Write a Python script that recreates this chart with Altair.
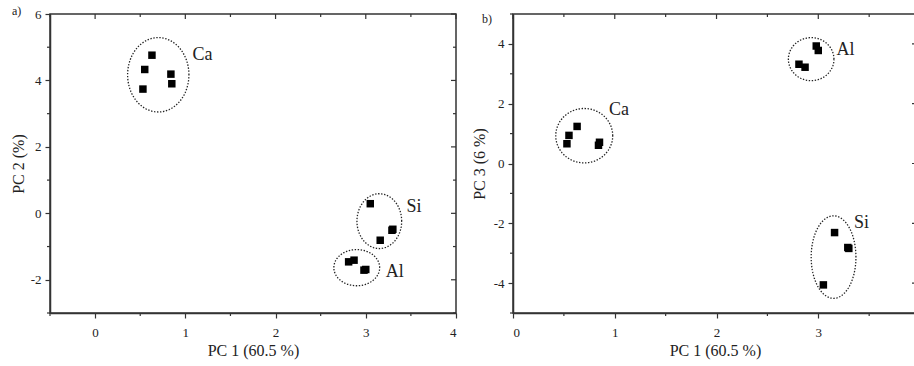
import altair as alt
import numpy as np
import pandas as pd

# Sample scores on the first three principal components
element = ["Ca"] * 5 + ["Al"] * 4 + ["Si"] * 4
pc1 = [0.53, 0.55, 0.63, 0.84, 0.85, 2.81, 2.87, 2.98, 3.00, 3.05, 3.16, 3.29, 3.30]
pc2 = [3.74, 4.33, 4.76, 4.19, 3.90, -1.46, -1.41, -1.71, -1.69, 0.29, -0.81, -0.51, -0.48]
pc3 = [0.66, 0.94, 1.24, 0.61, 0.71, 3.32, 3.22, 3.93, 3.78, -4.06, -2.31, -2.81, -2.84]

# Dotted cluster outlines (centre and semi-axes) for each panel
ell_a_group = ["Ca", "Si", "Al"]
ell_a_cx = [0.70, 3.15, 2.90]
ell_a_cy = [4.17, -0.235, -1.635]
ell_a_rx = [0.34, 0.248, 0.254]
ell_a_ry = [1.12, 0.825, 0.545]

ell_b_group = ["Ca", "Al", "Si"]
ell_b_cx = [0.70, 2.93, 3.15]
ell_b_cy = [0.93, 3.49, -3.13]
ell_b_rx = [0.28, 0.224, 0.22]
ell_b_ry = [0.91, 0.72, 1.38]

# Cluster labels
lab_a_text = ["Ca", "Si", "Al"]
lab_a_x = [1.08, 3.45, 3.22]
lab_a_y = [4.77, 0.18, -1.77]

lab_b_text = ["Ca", "Al", "Si"]
lab_b_x = [0.944, 3.18, 3.35]
lab_b_y = [1.80, 3.78, -2.00]

# Axis ticks
a_x_major = [0, 1, 2, 3, 4]
a_x_minor = [-0.5, 0.5, 1.5, 2.5, 3.5]
a_y_major = [-2, 0, 2, 4, 6]
a_y_minor = [-3, -1, 1, 3, 5]

b_x_major = [0, 1, 2, 3]
b_x_minor = [0.5, 1.5, 2.5, 3.5]
b_y_major = [-4, -2, 0, 2, 4]
b_y_minor = [-5, -3, -1, 1, 3, 5]

SERIF = "'Liberation Serif', 'Times New Roman', Times, serif"
INK = "#222222"
LINE = "#333333"

scores = pd.DataFrame({"element": element, "pc1": pc1, "pc2": pc2, "pc3": pc3})


def outline_frame(groups, cx, cy, rx, ry, n=90):
    rows = []
    t = np.linspace(0, 2 * np.pi, n)
    for g, x0, y0, a, b in zip(groups, cx, cy, rx, ry):
        for k, tt in enumerate(t):
            rows.append({"grp": g, "k": k, "ex": x0 + a * np.cos(tt), "ey": y0 + b * np.sin(tt)})
    return pd.DataFrame(rows)


def panel(ycol, xdom, ydom, W, H, xmaj, xmin, ymaj, ymin, ytitle, ell, labels, tag, tag_pos, ytitle_pad):
    xs = alt.Scale(domain=xdom, nice=False, zero=False)
    ys = alt.Scale(domain=ydom, nice=False, zero=False)
    xax = alt.Axis(values=xmaj, title="PC 1 (60.5 %)", labelExpr="'' + datum.value",
                   labelPadding=8, titlePadding=3)
    yax = alt.Axis(values=ymaj, title=ytitle, labelExpr="'' + datum.value",
                   labelPadding=4, titlePadding=ytitle_pad)

    def X(f):
        return alt.X(f, type="quantitative", scale=xs, axis=xax)

    def Y(f):
        return alt.Y(f, type="quantitative", scale=ys, axis=yax)

    pts = alt.Chart(scores).mark_square(size=56, color="black", opacity=1).encode(
        x=X("pc1"), y=Y(ycol)
    )
    rings = alt.Chart(ell).mark_line(
        strokeDash=[1.4, 1.6], color=INK, strokeWidth=1.3
    ).encode(x=X("ex"), y=Y("ey"), detail="grp:N", order="k:Q")

    txt = alt.Chart(labels).mark_text(
        font=SERIF, fontSize=18, color=INK, align="left", baseline="middle"
    ).encode(x=X("lx"), y=Y("ly"), text="lt:N")

    xmaj_df = pd.DataFrame({"t": xmaj})
    xmin_df = pd.DataFrame({"t": xmin})
    ymaj_df = pd.DataFrame({"t": ymaj})
    ymin_df = pd.DataFrame({"t": ymin})
    rule = dict(color=LINE, strokeWidth=1.2)

    ticks = [
        # minor ticks on the bottom and left axes
        alt.Chart(xmin_df).mark_rule(**rule).encode(x=X("t"), y=alt.value(H), y2=alt.value(H + 3)),
        alt.Chart(ymin_df).mark_rule(**rule).encode(y=Y("t"), x=alt.value(-3), x2=alt.value(0)),
        # mirrored ticks along the top and right edges
        alt.Chart(xmaj_df).mark_rule(**rule).encode(x=X("t"), y=alt.value(0), y2=alt.value(5)),
        alt.Chart(xmin_df).mark_rule(**rule).encode(x=X("t"), y=alt.value(0), y2=alt.value(3)),
        alt.Chart(ymaj_df).mark_rule(**rule).encode(y=Y("t"), x=alt.value(W - 5), x2=alt.value(W)),
        alt.Chart(ymin_df).mark_rule(**rule).encode(y=Y("t"), x=alt.value(W - 3), x2=alt.value(W)),
    ]

    tag_mark = alt.Chart(pd.DataFrame({"s": [tag]})).mark_text(
        font=SERIF, fontSize=12, color=INK, align="left", baseline="middle"
    ).encode(x=alt.value(tag_pos[0]), y=alt.value(tag_pos[1]), text="s:N")

    return alt.layer(rings, pts, txt, *ticks, tag_mark).properties(width=W, height=H)


ell_a = outline_frame(ell_a_group, ell_a_cx, ell_a_cy, ell_a_rx, ell_a_ry)
ell_b = outline_frame(ell_b_group, ell_b_cx, ell_b_cy, ell_b_rx, ell_b_ry)
lab_a = pd.DataFrame({"lt": lab_a_text, "lx": lab_a_x, "ly": lab_a_y})
lab_b = pd.DataFrame({"lt": lab_b_text, "lx": lab_b_x, "ly": lab_b_y})

left = panel("pc2", [-0.5, 4], [-3, 6], 406, 299, a_x_major, a_x_minor, a_y_major, a_y_minor,
             "PC 2 (%)", ell_a, lab_a, "a)", (-38, -3), 4)
right = panel("pc3", [0, 3.97], [-5, 5], 404, 299, b_x_major, b_x_minor, b_y_major, b_y_minor,
              "PC 3 (6 %)", ell_b, lab_b, "b)", (-31, 5), 6)

chart = alt.hconcat(left, right, spacing=57, bounds="flush").properties(
    autosize=alt.AutoSizeParams(type="none"),
    padding={"left": 50, "top": 14, "right": 864, "bottom": 352},
    background="white",
).configure_view(
    stroke=LINE, strokeWidth=1.5
).configure_axis(
    grid=False,
    labelFont=SERIF, labelFontSize=13, labelColor=INK,
    titleFont=SERIF, titleFontSize=16, titleFontWeight="normal", titleColor=INK,
    domainColor=LINE, domainWidth=1.5,
    tickColor=LINE, tickWidth=1.2, tickSize=5,
)

chart.save("out.html", embed_options={"renderer": "svg", "actions": False})
